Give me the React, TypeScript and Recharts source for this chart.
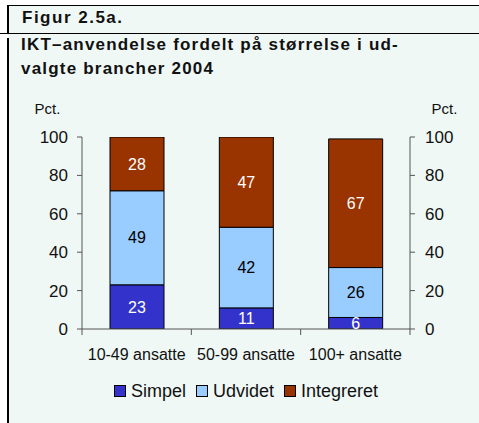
import { BarChart, Bar, XAxis, YAxis, Legend, LabelList } from "recharts";

const categories = ["10-49 ansatte", "50-99 ansatte", "100+ ansatte"];
const simpel = [23, 11, 6];
const udvidet = [49, 42, 26];
const integreret = [28, 47, 67];
const yTicks = [0, 20, 40, 60, 80, 100];

const series = [
  { key: "simpel", name: "Simpel", color: "#3333cc", text: "#ffffff" },
  { key: "udvidet", name: "Udvidet", color: "#99ccff", text: "#000000" },
  { key: "integreret", name: "Integreret", color: "#993300", text: "#ffffff" },
];

const data = categories.map((category, i) => ({
  category,
  simpel: simpel[i],
  udvidet: udvidet[i],
  integreret: integreret[i],
}));

const W = 479;
const H = 423;
const FONT = "'Liberation Sans', Arial, sans-serif";
const AXIS = "#555555";
const BG = "#eff8f5";
// plot spans x 82..410
const PLOT_W = W - 82 - 69;

function CategoryTick(props: any) {
  const { x, y, payload, index } = props;
  const band = PLOT_W / categories.length;
  const left = x - band / 2;
  return (
    <g>
      <line x1={left} x2={left} y1={y} y2={y + 6} stroke={AXIS} />
      {index === categories.length - 1 && (
        <line x1={x + band / 2} x2={x + band / 2} y1={y} y2={y + 6} stroke={AXIS} />
      )}
      <text x={x} y={y + 31} textAnchor="middle" fontSize={16} fill="#111">
        {payload.value}
      </text>
    </g>
  );
}

function LegendBox() {
  return (
    <div
      style={{
        display: "flex",
        justifyContent: "center",
        alignItems: "center",
        height: 24,
        fontSize: 18,
        color: "#111",
        fontFamily: FONT,
      }}
    >
      {series.map((s, i) => (
        <span
          key={s.key}
          style={{ display: "flex", alignItems: "center", marginRight: i < series.length - 1 ? 10 : 0 }}
        >
          <span
            style={{
              width: 10,
              height: 10,
              background: s.color,
              border: "1px solid #000",
              marginRight: 5,
            }}
          />
          {s.name}
        </span>
      ))}
    </div>
  );
}

export default function App() {
  return (
    <div style={{ position: "relative", width: W, height: H, background: "#fff", fontFamily: FONT, overflow: "hidden" }}>
      <style>{"body{margin:0}"}</style>
      <div style={{ position: "absolute", left: 8, top: 5, right: 0, bottom: 0, background: BG }} />
      <div style={{ position: "absolute", left: 7, top: 5, right: 0, height: 1, background: "#000" }} />
      <div style={{ position: "absolute", left: 7, top: 5, width: 2, height: 28, background: "#000" }} />
      <div style={{ position: "absolute", left: 0, top: 33, right: 0, height: 1, background: "#000" }} />
      <div style={{ position: "absolute", left: 7, top: 38, width: 2, bottom: 0, background: "#000" }} />
      <div
        style={{
          position: "absolute",
          left: 22,
          top: 7,
          fontSize: 17,
          fontWeight: "bold",
          letterSpacing: 1.5,
          lineHeight: "22px",
          color: "#111",
        }}
      >
        Figur 2.5a.
      </div>
      <div
        style={{
          position: "absolute",
          left: 21,
          top: 33,
          fontSize: 17,
          fontWeight: "bold",
          letterSpacing: 1.2,
          lineHeight: "24px",
          color: "#111",
          whiteSpace: "nowrap",
        }}
      >
        IKT–anvendelse fordelt på størrelse i ud-
        <br />
        valgte brancher 2004
      </div>
      <div style={{ position: "absolute", left: 0, top: 0 }}>
        <BarChart
          width={W}
          height={H}
          data={data}
          margin={{ top: 137, right: 0, bottom: 20, left: 13 }}
        >
          <XAxis
            dataKey="category"
            height={50}
            tickLine={false}
            tickSize={0}
            tickMargin={0}
            axisLine={{ stroke: AXIS }}
            tick={<CategoryTick />}
            interval={0}
          />
          <YAxis
            yAxisId="left"
            width={69}
            domain={[0, 100]}
            allowDataOverflow
            ticks={yTicks}
            tickSize={5}
            tickMargin={9}
            axisLine={{ stroke: AXIS }}
            tickLine={{ stroke: AXIS }}
            tick={{ fontSize: 17, fill: "#111" }}
            label={{ value: "Pct.", position: "top", offset: 23, fontSize: 15, fill: "#111" }}
          />
          <YAxis
            yAxisId="right"
            orientation="right"
            width={69}
            domain={[0, 100]}
            allowDataOverflow
            ticks={yTicks}
            tickSize={5}
            tickMargin={10}
            axisLine={{ stroke: AXIS }}
            tickLine={{ stroke: AXIS }}
            tick={{ fontSize: 17, fill: "#111" }}
            label={{ value: "Pct.", position: "top", offset: 23, fontSize: 15, fill: "#111" }}
          />
          <Legend verticalAlign="bottom" content={<LegendBox />} />
          {series.map((s) => (
            <Bar
              key={s.key}
              yAxisId="left"
              dataKey={s.key}
              name={s.name}
              stackId="a"
              barSize={54}
              fill={s.color}
              stroke="#000"
              strokeWidth={1}
              isAnimationActive={false}
            >
              <LabelList dataKey={s.key} position="center" fill={s.text} fontSize={16} />
            </Bar>
          ))}
        </BarChart>
      </div>
    </div>
  );
}
